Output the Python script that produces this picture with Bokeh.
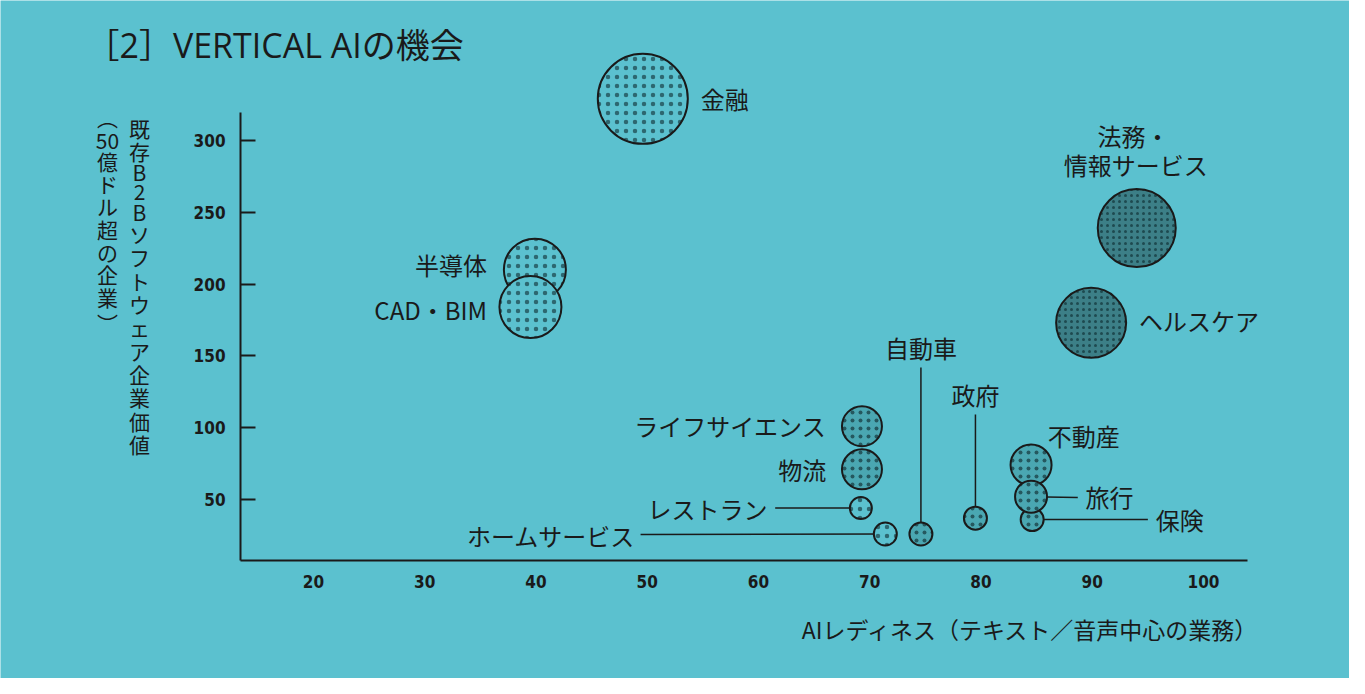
from bokeh.plotting import figure
from bokeh.models import ColumnDataSource, Label, FixedTicker, Range1d
from bokeh.core.properties import value
from bokeh.embed import file_html
from bokeh.resources import INLINE

# ---------------- data ----------------
industries = ["金融", "法務・情報サービス", "ヘルスケア", "半導体", "CAD・BIM",
              "ライフサイエンス", "物流", "レストラン", "ホームサービス", "自動車",
              "政府", "不動産", "保険", "旅行"]
ai_readiness = [49.6, 94.0, 89.9, 39.9, 39.5, 69.3, 69.3, 69.2, 71.4, 74.6, 79.5, 84.5, 84.6, 84.5]
valuation = [329, 239, 173, 210, 184, 101, 71, 44, 26, 26, 37, 74, 36, 52]
bubble = [90, 78, 70, 62, 62, 40, 40, 22, 23, 23, 23, 41, 23, 32]
tier = ["light", "dark", "dark", "light", "light", "mid", "mid", "light", "light",
        "mid", "mid", "mid", "mid", "mid"]

x_ticks = [20, 30, 40, 50, 60, 70, 80, 90, 100]
y_ticks = [50, 100, 150, 200, 250, 300]

title_text = "［2］VERTICAL AIの機会"
x_title = "AIレディネス（テキスト／音声中心の業務）"
y_title_main = ["既", "存", "B", "2", "B", "ソ", "フ", "ト", "ウ", "ェ", "ア", "企", "業", "価", "値"]
y_title_sub = ["︵", "50", "億", "ド", "ル", "超", "の", "企", "業", "︶"]

# label placement (data coords) : text, x, y, align
labels = [
    ("金融", 54.8, 329.2, "left"),
    ("法務・", 93.7, 303.5, "center"),
    ("情報サービス", 93.9, 283.3, "center"),
    ("ヘルスケア", 94.2, 174.7, "left"),
    ("半導体", 35.6, 213.6, "right"),
    ("CAD・BIM", 35.6, 182.3, "right"),
    ("ライフサイエンス", 66.1, 101.5, "right"),
    ("物流", 66.1, 70.9, "right"),
    ("レストラン", 60.8, 43.7, "right"),
    ("ホームサービス", 48.9, 24.9, "right"),
    ("自動車", 74.6, 155.9, "center"),
    ("政府", 79.5, 123.1, "center"),
    ("不動産", 86.0, 94.6, "left"),
    ("旅行", 89.4, 52.1, "left"),
    ("保険", 95.7, 36.1, "left"),
]
# leader lines: (industry, other end x, other end y)
leaders = [
    ("自動車", 74.6, 141.9),
    ("政府", 79.5, 109.2),
    ("レストラン", 61.5, 44.0),
    ("ホームサービス", 49.4, 25.6),
    ("旅行", 88.7, 51.4),
    ("保険", 95.0, 36.1),
]

# ---------------- style ----------------
BG = "#5BC1CF"
INK = "#1A1A1A"
FILLS = {"light": BG, "mid": "#4AA7B2", "dark": "#3C7F87"}
HATCH = {"light": 9, "mid": 8, "dark": 6}
HATCH_ALPHA = {"light": 0.75, "mid": 0.85, "dark": 1.0}
FONT = "Noto Sans CJK JP"
TITLEFONT = "Open Sans, Noto Sans CJK JP"
NUMFONT = "DejaVu Sans Condensed, DejaVu Sans"

X0, X1 = 13.44, 104.0      # axis extents
Y0, Y1 = 7.52, 319.5

p = figure(width=1349, height=678, output_backend="svg", toolbar_location=None,
           x_range=Range1d(-8.135, 113.124), y_range=Range1d(-74.65, 397.49),
           min_border=0, min_border_left=0, min_border_right=0,
           min_border_top=0, min_border_bottom=0,
           background_fill_color=BG, border_fill_color=BG, outline_line_color=None)
p.grid.visible = False

p.xaxis.fixed_location = Y0
p.yaxis.fixed_location = X0

p.xaxis.ticker = FixedTicker(ticks=x_ticks)
p.xaxis.bounds = (X0, X1)
p.xaxis.major_tick_in = 0
p.xaxis.major_tick_out = 0
p.xaxis.minor_tick_in = 0
p.xaxis.minor_tick_out = 0
p.xaxis.major_label_standoff = 14

p.yaxis.ticker = FixedTicker(ticks=y_ticks)
p.yaxis.bounds = (Y0, Y1)
p.yaxis.major_tick_in = 15
p.yaxis.major_tick_out = 0
p.yaxis.minor_tick_in = 0
p.yaxis.minor_tick_out = 0
p.yaxis.major_label_standoff = 15

for ax in (p.xaxis, p.yaxis):
    ax.axis_line_width = 2
    ax.axis_line_color = INK
    ax.major_tick_line_width = 2
    ax.major_tick_line_color = INK
    ax.major_label_text_font = NUMFONT
    ax.major_label_text_font_style = "bold"
    ax.major_label_text_font_size = "17px"
    ax.major_label_text_color = INK

# leader lines
idx = {n: i for i, n in enumerate(industries)}
p.segment(x0=[ai_readiness[idx[n]] for n, _, _ in leaders],
          y0=[valuation[idx[n]] for n, _, _ in leaders],
          x1=[x for _, x, _ in leaders], y1=[y for _, _, y in leaders],
          line_color=INK, line_width=1.5)

# bubbles
for t in ["light", "mid", "dark"]:
    sel = [i for i in range(len(industries)) if tier[i] == t]
    src = ColumnDataSource(dict(x=[ai_readiness[i] for i in sel],
                                y=[valuation[i] for i in sel],
                                s=[bubble[i] for i in sel],
                                name=[industries[i] for i in sel]))
    p.scatter("x", "y", size="s", source=src, marker="circle",
              fill_color=FILLS[t], line_color=INK, line_width=2,
              hatch_pattern="dot", hatch_scale=HATCH[t], hatch_color="#1E4A50",
              hatch_alpha=HATCH_ALPHA[t], hatch_weight=1)

# bubble labels
for al in ["left", "center", "right"]:
    sub = [l for l in labels if l[3] == al]
    p.text(x=[l[1] for l in sub], y=[l[2] for l in sub], text=[l[0] for l in sub],
           text_align=al, text_baseline="middle", text_font=value(FONT),
           text_font_size="24px", text_color=INK)

# title & axis titles (screen units; frame covers the whole canvas)
H = 686  # page y of the frame bottom
def sx(px):
    return px - 8
def sy(py):
    return H - py

p.add_layout(Label(x=sx(93), y=sy(52), x_units="screen", y_units="screen", text=title_text,
                   text_baseline="middle", text_font=TITLEFONT, text_font_size="34px",
                   text_color=INK))
p.add_layout(Label(x=sx(1267), y=sy(636), x_units="screen", y_units="screen", text=x_title,
                   text_align="right", text_baseline="middle", text_font=FONT,
                   text_font_size="23px", text_color=INK))

def stack(chars, px, py0, adv_cjk, adv_other, adv_paren):
    y = py0
    prev = None
    for ch in chars:
        if ch.isascii():
            a = adv_other
        elif ch in "︵︶":
            a = adv_paren
        else:
            a = adv_cjk
        if prev is not None:
            y += (prev + a) / 2
        p.add_layout(Label(x=sx(px), y=sy(y), x_units="screen", y_units="screen", text=ch,
                           text_align="center", text_baseline="middle", text_font=FONT,
                           text_font_size="21px", text_color=INK))
        prev = a

stack(y_title_main, 147, 135, 23.3, 20, 15)
stack(y_title_sub, 115, 124, 22.7, 18, 30)

open("out.html", "w").write(file_html(p, INLINE))
